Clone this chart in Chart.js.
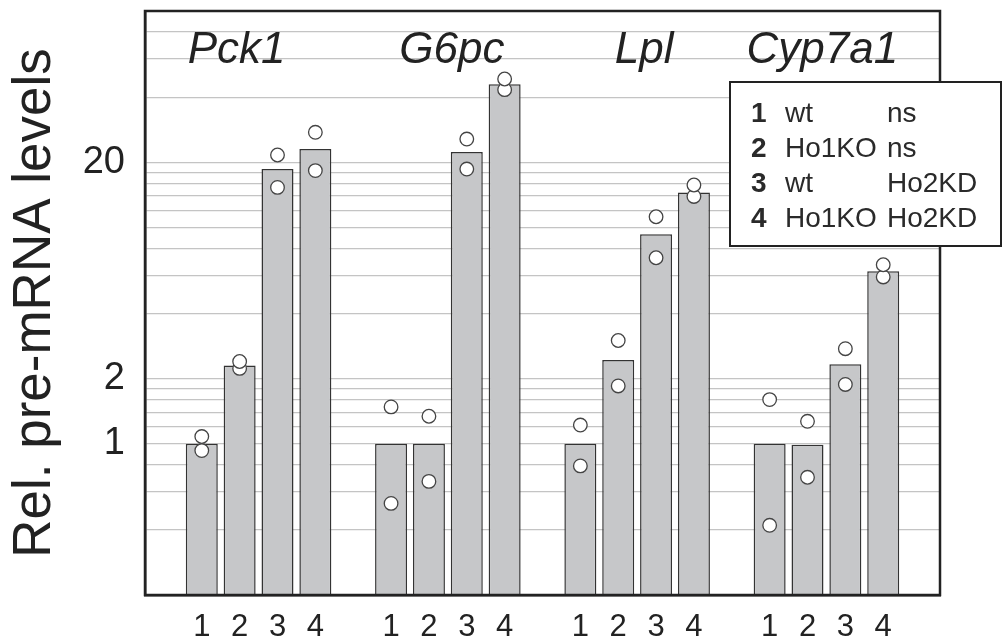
<!DOCTYPE html>
<html>
<head>
<meta charset="utf-8">
<script src="https://cdn.jsdelivr.net/npm/chart.js@4/dist/chart.umd.min.js"></script>
<style>
body { margin: 0; background: #fff; }
</style>
</head>
<body>
<canvas id="c" width="1006" height="644"></canvas>
<script>
var genes = ['Pck1', 'G6pc', 'Lpl', 'Cyp7a1'];
var conditions = ['1', '2', '3', '4'];

// mean bar heights, conditions 1..4
var pck1Bar   = [1.0, 2.3, 18.6, 23.0];
var g6pcBar   = [1.0, 1.0, 22.3, 45.9];
var lplBar    = [1.0, 2.44, 9.3, 14.5];
var cyp7a1Bar = [1.0, 0.99, 2.33, 6.27];

// the two replicate circles on each bar
var pck1Rep1   = [1.08, 2.40, 21.6, 27.5];
var pck1Rep2   = [0.93, 2.23, 15.3, 18.3];
var g6pcRep1   = [1.48, 1.34, 25.6, 48.5];
var g6pcRep2   = [0.53, 0.67, 18.6, 43.3];
var lplRep1    = [1.22, 3.0, 11.2, 15.7];
var lplRep2    = [0.79, 1.85, 7.24, 13.9];
var cyp7a1Rep1 = [1.6, 1.27, 2.75, 6.72];
var cyp7a1Rep2 = [0.42, 0.70, 1.88, 5.9];

var gridValues = [0.4, 0.6, 0.8, 1, 1.2, 1.4, 1.6, 1.8, 2, 4, 6, 8, 10, 12, 14, 16, 18, 20, 40, 60, 80];
var tickLabels = [1, 2, 20];

var legendNum = ['1', '2', '3', '4'];
var legendGenotype = ['wt', 'Ho1KO', 'wt', 'Ho1KO'];
var legendTreatment = ['ns', 'ns', 'Ho2KD', 'Ho2KD'];

// gene names are not quite centred over their groups in the original
var geneLabelShift = [-22, 4, 7, -4];

// one empty slot before each group and after the last one
function spread(groups) {
  var out = [null];
  groups.forEach(function (g) { out = out.concat(g, [null]); });
  return out;
}
var labels = [''];
genes.forEach(function () { labels = labels.concat(conditions, ['']); });

var barData = spread([pck1Bar, g6pcBar, lplBar, cyp7a1Bar]);
var rep1Data = spread([pck1Rep1, g6pcRep1, lplRep1, cyp7a1Rep1]);
var rep2Data = spread([pck1Rep2, g6pcRep2, lplRep2, cyp7a1Rep2]);

var FONT = '"Liberation Sans", Arial, sans-serif';
var INK = '#222';

var pointStyle = {
  type: 'line',
  showLine: false,
  pointRadius: 6.8,
  pointBackgroundColor: '#fff',
  pointBorderColor: '#444',
  pointBorderWidth: 1.3,
  order: 0
};

var decor = {
  id: 'decor',
  afterDraw: function (chart) {
    var ctx = chart.ctx, a = chart.chartArea, x = chart.scales.x;
    ctx.save();
    ctx.strokeStyle = INK;
    ctx.lineWidth = 2.5;
    ctx.strokeRect(a.left, a.top, a.right - a.left, a.bottom - a.top);

    ctx.fillStyle = INK;
    ctx.font = 'italic 44px ' + FONT;
    ctx.textAlign = 'center';
    ctx.textBaseline = 'alphabetic';
    genes.forEach(function (g, gi) {
      var first = 1 + gi * 5;
      var cx = (x.getPixelForValue(first) + x.getPixelForValue(first + 3)) / 2;
      ctx.fillText(g, cx + geneLabelShift[gi], a.top + 52);
    });

    // legend box
    var bx = a.right - 210, by = a.top + 71, bw = 271, bh = 164;
    ctx.fillStyle = '#fff';
    ctx.fillRect(bx, by, bw, bh);
    ctx.lineWidth = 2;
    ctx.strokeRect(bx, by, bw, bh);
    ctx.fillStyle = '#2a2a2a';
    ctx.textAlign = 'left';
    for (var i = 0; i < legendNum.length; i++) {
      var yy = by + 40 + i * 35;
      ctx.font = 'bold 28px ' + FONT;
      ctx.fillText(legendNum[i], bx + 21, yy);
      ctx.font = '28px ' + FONT;
      ctx.fillText(legendGenotype[i], bx + 55, yy);
      ctx.fillText(legendTreatment[i], bx + 157, yy);
    }
    ctx.restore();
  }
};

new Chart(document.getElementById('c'), {
  type: 'bar',
  data: {
    labels: labels,
    datasets: [
      Object.assign({ label: 'rep 1', data: rep1Data }, pointStyle),
      Object.assign({ label: 'rep 2', data: rep2Data }, pointStyle),
      {
        label: 'mean',
        data: barData,
        backgroundColor: '#c6c7c9',
        borderColor: '#333',
        borderWidth: 1.5,
        categoryPercentage: 1,
        barPercentage: 0.845,
        order: 1
      }
    ]
  },
  options: {
    responsive: false,
    animation: false,
    layout: { padding: { top: 11, right: 66, left: 0, bottom: 0 } },
    plugins: { legend: { display: false }, tooltip: { enabled: false } },
    scales: {
      x: {
        type: 'category',
        grid: { display: false, drawTicks: false },
        border: { display: true, color: INK, width: 2.5 },
        ticks: {
          autoSkip: false, maxRotation: 0, padding: 14, color: INK,
          font: { family: FONT, size: 31 }
        },
        afterFit: function (s) { s.height = 49; s.paddingLeft = 0; s.paddingRight = 0; }
      },
      y: {
        type: 'logarithmic',
        min: 0.2,
        max: 100,
        afterBuildTicks: function (s) {
          s.ticks = gridValues.map(function (v) { return { value: v }; });
        },
        grid: { color: '#c4c4c4', lineWidth: 1.2, drawTicks: false },
        border: { display: true, color: INK, width: 2.5 },
        ticks: {
          autoSkip: false, padding: 20, color: INK,
          font: { family: FONT, size: 38 },
          callback: function (v) { return tickLabels.indexOf(v) >= 0 ? String(v) : ''; }
        },
        title: {
          display: true,
          text: 'Rel. pre-mRNA levels',
          color: INK,
          font: { family: FONT, size: 53, weight: 'normal' },
          padding: { top: 4, bottom: 0 }
        },
        afterFit: function (s) { s.width = 145; s.paddingTop = 0; s.paddingBottom = 0; }
      }
    }
  },
  plugins: [decor]
});
</script>
</body>
</html>
